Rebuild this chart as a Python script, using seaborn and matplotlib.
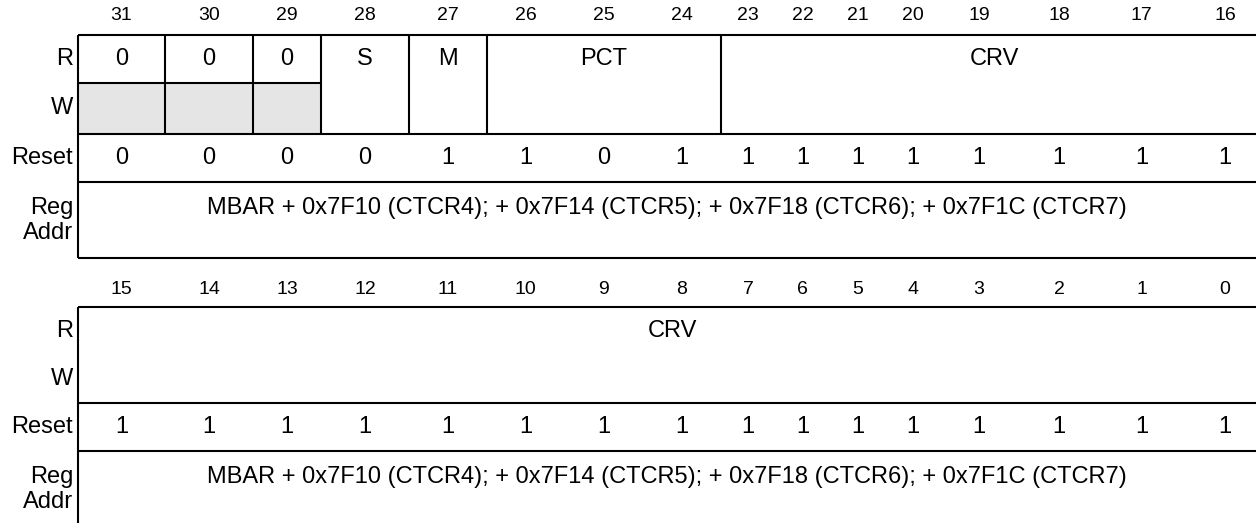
import matplotlib
matplotlib.use("Agg")
import matplotlib.pyplot as plt
import seaborn as sns
from matplotlib.patches import Rectangle

# Register data
bits_upper = [31, 30, 29, 28, 27, 26, 25, 24, 23, 22, 21, 20, 19, 18, 17, 16]
bits_lower = [15, 14, 13, 12, 11, 10, 9, 8, 7, 6, 5, 4, 3, 2, 1, 0]

upper_names = ["0", "0", "0", "S", "M", "PCT", "CRV"]
upper_msb = [31, 30, 29, 28, 27, 26, 23]
upper_lsb = [31, 30, 29, 28, 27, 24, 16]
upper_reserved = [True, True, True, False, False, False, False]
upper_reset = [0, 0, 0, 0, 1, 1, 0, 1, 1, 1, 1, 1, 1, 1, 1, 1]

lower_names = ["CRV"]
lower_msb = [15]
lower_lsb = [0]
lower_reserved = [False]
lower_reset = [1, 1, 1, 1, 1, 1, 1, 1, 1, 1, 1, 1, 1, 1, 1, 1]

row_labels = ["R", "W", "Reset"]
reg_addr = "MBAR + 0x7F10 (CTCR4); + 0x7F14 (CTCR5); + 0x7F18 (CTCR6); + 0x7F1C (CTCR7)"

# Layout (pixel space)
col_edges = [78, 165, 253, 321, 409, 487, 564, 643, 721, 775, 830, 885, 940, 1018, 1100, 1183, 1267]
sections = [
    dict(top=35, mid=83, reset=134, addr=182, bottom=258, num_y=15),
    dict(top=307, mid=355, reset=403, addr=451, bottom=None, num_y=290),
]
LW = 1.5
GREY = "#e5e5e5"
FS = 17
FS_NUM = 14

sns.set_theme(style="white")
plt.rcParams["font.family"] = ["Liberation Sans", "DejaVu Sans"]
plt.rcParams["text.color"] = "black"

fig = plt.figure(figsize=(12.56, 5.23), dpi=100)
ax = fig.add_axes([0, 0, 1, 1])
ax.set_xlim(0, 1256)
ax.set_ylim(523, 0)
ax.axis("off")


def col_of(bit, bits):
    return bits.index(bit)


def draw_section(sec, bits, names, msb, lsb, reserved, reset):
    top, mid, rst, addr, bottom = sec["top"], sec["mid"], sec["reset"], sec["addr"], sec["bottom"]
    right = 1256
    left = col_edges[0]
    end = bottom if bottom is not None else 523

    # bit numbers
    for i, b in enumerate(bits):
        cx = (col_edges[i] + col_edges[i + 1]) / 2
        ax.text(cx, sec["num_y"], str(b), ha="center", va="center", fontsize=FS_NUM)

    # horizontal lines
    for y in [top, rst, addr] + ([bottom] if bottom is not None else []):
        ax.plot([left, right], [y, y], color="black", lw=LW, solid_capstyle="butt")
    ax.plot([left, left], [top, end], color="black", lw=LW, solid_capstyle="butt")

    # fields
    for name, m, l, res in zip(names, msb, lsb, reserved):
        c0 = col_of(m, bits)
        c1 = col_of(l, bits)
        x0, x1 = col_edges[c0], col_edges[c1 + 1]
        cx = (x0 + x1) / 2
        if res:
            ax.add_patch(Rectangle((x0, mid), x1 - x0, rst - mid, facecolor=GREY, edgecolor="none", zorder=0))
            ax.plot([x0, x1], [mid, mid], color="black", lw=LW, solid_capstyle="butt")
        if x1 < right:
            ax.plot([x1, x1], [top, rst], color="black", lw=LW, solid_capstyle="butt")
        ax.text(cx, (top + mid) / 2, name, ha="center", va="center", fontsize=FS)

    # reset values
    for i, v in enumerate(reset):
        cx = (col_edges[i] + col_edges[i + 1]) / 2
        ax.text(cx, (rst + addr) / 2, str(v), ha="center", va="center", fontsize=FS)

    # row labels
    ax.text(73, (top + mid) / 2, row_labels[0], ha="right", va="center", fontsize=FS)
    ax.text(73, (mid + rst) / 2, row_labels[1], ha="right", va="center", fontsize=FS)
    ax.text(73, (rst + addr) / 2, row_labels[2], ha="right", va="center", fontsize=FS)
    ax.text(73, addr + 26, "Reg", ha="right", va="center", fontsize=FS)
    ax.text(73, addr + 51, "Addr", ha="right", va="center", fontsize=FS)
    ax.text((left + right) / 2, addr + 26, reg_addr, ha="center", va="center", fontsize=FS)


draw_section(sections[0], bits_upper, upper_names, upper_msb, upper_lsb, upper_reserved, upper_reset)
draw_section(sections[1], bits_lower, lower_names, lower_msb, lower_lsb, lower_reserved, lower_reset)

fig.savefig("out.png", dpi=100, facecolor="white")
